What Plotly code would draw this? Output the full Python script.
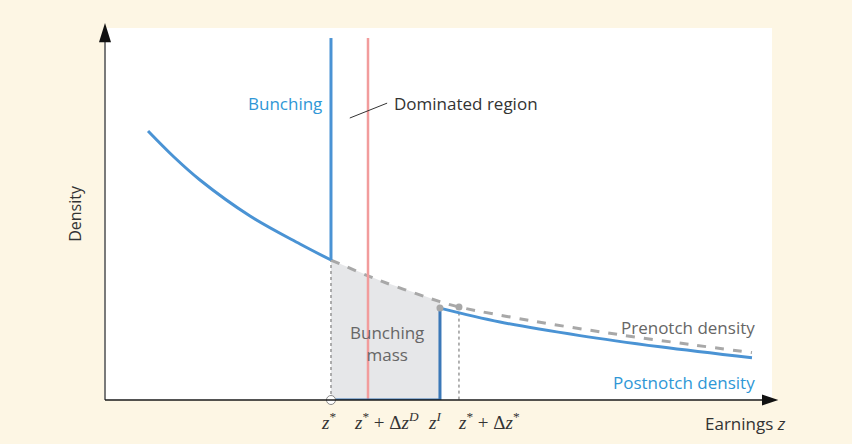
import plotly.graph_objects as go

# Key earnings thresholds (x axis, 0-100 scale)
z_star = 33.88         # notch point z*
z_dom = 39.43          # z* + Δz^D, end of dominated region
z_int = 50.22          # z^I, marginal bunching individual
z_top = 53.07          # z* + Δz*
spike_top = 97.3       # height of the bunching spike

# Counterfactual density below the notch
pre_x = [6.45, 10.34, 14.24, 21.74, 29.24, 33.88]
pre_y = [72.31, 65.32, 59.14, 49.46, 41.94, 37.63]

# Prenotch density above the notch (dashed)
cf_x = [33.88, 41.23, 50.22, 53.07, 63.72, 75.71, 87.71, 97.0]
cf_y = [37.63, 32.10, 26.45, 25.0, 21.37, 17.93, 14.92, 12.74]

# Postnotch density
post_x = [50.22, 59.22, 71.21, 83.21, 97.0]
post_y = [24.7, 20.97, 17.31, 14.30, 11.34]

BLUE = "#4a93d4"
BLUE_TXT = "#2f97d6"
RED = "#f29c9c"
GREY = "#a8a8a8"
SANS = "Open Sans, Noto Sans, sans-serif"
SERIF = "Liberation Serif, DejaVu Serif, serif"

fig = go.Figure()

# Bunching mass: area under the prenotch density between z* and z^I
mass_pts = [(x, y) for x, y in zip(cf_x, cf_y) if z_star <= x <= z_int]
mass_x = [z_star] + [p[0] for p in mass_pts] + [z_int, z_star]
mass_y = [0] + [p[1] for p in mass_pts] + [0, 0]
fig.add_trace(go.Scatter(x=mass_x, y=mass_y, fill="toself", fillcolor="#e6e7e9",
                         line=dict(width=0), mode="lines", hoverinfo="skip"))

# Dotted guides at z* and z* + Δz*
fig.add_trace(go.Scatter(x=[z_star, z_star], y=[0, cf_y[0]], mode="lines",
                         line=dict(color="#666", width=1, dash="dot")))
fig.add_trace(go.Scatter(x=[z_top, z_top], y=[-1.5, cf_y[3]], mode="lines",
                         line=dict(color="#666", width=1, dash="dot"), cliponaxis=False))

# Prenotch density
fig.add_trace(go.Scatter(x=cf_x, y=cf_y, mode="lines", line_shape="spline",
                         line=dict(color=GREY, width=3, dash="dash")))

# Dominated region boundary
fig.add_trace(go.Scatter(x=[z_dom, z_dom], y=[0, spike_top], mode="lines",
                         line=dict(color=RED, width=2.5)))

# Observed density: left tail, bunching spike, hole, postnotch tail
fig.add_trace(go.Scatter(x=pre_x, y=pre_y, mode="lines", line_shape="spline",
                         line=dict(color=BLUE, width=3)))
fig.add_trace(go.Scatter(x=[z_star, z_star], y=[pre_y[-1], spike_top], mode="lines",
                         line=dict(color=BLUE, width=3)))
fig.add_trace(go.Scatter(x=[z_star, z_int, z_int], y=[0, 0, post_y[0]], mode="lines",
                         line=dict(color="#3b78b8", width=3), cliponaxis=False))
fig.add_trace(go.Scatter(x=post_x, y=post_y, mode="lines", line_shape="spline",
                         line=dict(color=BLUE, width=3)))

# Markers
fig.add_trace(go.Scatter(x=[z_int, z_top], y=[post_y[0], cf_y[3]], mode="markers",
                         marker=dict(color=GREY, size=7)))
fig.add_trace(go.Scatter(x=[z_star], y=[0], mode="markers", cliponaxis=False,
                         marker=dict(color="white", size=9, line=dict(color="#888", width=1))))

# Axis arrows
fig.add_shape(type="line", xref="paper", yref="paper", x0=0, y0=0, x1=0, y1=0.97,
              line=dict(color="#7a7a7a", width=2))
fig.add_shape(type="path", xref="paper", yref="paper",
              path="M -0.009,0.962 L 0,1.0135 L 0.009,0.962 Z",
              fillcolor="#111", line=dict(width=0))
fig.add_shape(type="line", xref="paper", yref="paper", x0=0, y0=0, x1=0.99, y1=0,
              line=dict(color="#1a1a1a", width=1.6))
fig.add_shape(type="path", xref="paper", yref="paper",
              path="M 0.985,0.0148 L 1.0095,0 L 0.985,-0.0148 Z",
              fillcolor="#111", line=dict(width=0))

# Leader line for the dominated region label
fig.add_shape(type="line", x0=36.7, y0=75.8, x1=42.3, y1=79.8,
              line=dict(color="#333", width=1))

ann = []
ann.append(dict(x=32.9, y=79.6, text="Bunching", xanchor="right",
                font=dict(color=BLUE_TXT, size=17, family=SANS)))
ann.append(dict(x=43.1, y=79.6, text="Dominated region", xanchor="left",
                font=dict(color="#333", size=17, family=SANS)))
ann.append(dict(x=(z_star + z_int) / 2 + 0.3, y=15.3, text="Bunching<br>mass",
                font=dict(color="#666", size=17, family=SANS)))
ann.append(dict(x=97.7, y=19.4, text="Prenotch density", xanchor="right",
                font=dict(color="#666", size=17, family=SANS)))
ann.append(dict(x=97.7, y=4.6, text="Postnotch density", xanchor="right",
                font=dict(color=BLUE_TXT, size=17, family=SANS)))
ann.append(dict(xref="paper", yref="paper", x=-0.045, y=0.503, text="Density",
                xanchor="center", textangle=-90,
                font=dict(color="#333", size=16, family=SANS)))
ann.append(dict(xref="paper", yref="paper", x=0.897, y=-0.062, xanchor="left",
                text="Earnings <i>z</i>", font=dict(color="#333", size=17, family=SANS)))

# Threshold labels under the x axis
tick_labels = [
    (z_star, "<i>z</i><sup>*</sup>", -2),
    (z_dom, "<i>z</i><sup>*</sup> + Δ<i>z</i><sup><i>D</i></sup>", 18),
    (z_int, "<i>z</i><sup><i>I</i></sup>", -5),
    (z_top, "<i>z</i><sup>*</sup> + Δ<i>z</i><sup>*</sup>", 30),
]
for xv, txt, shift in tick_labels:
    ann.append(dict(x=xv, yref="paper", y=-0.057, text=txt, xshift=shift,
                    font=dict(color="#333", size=19, family=SERIF)))

for a in ann:
    a.setdefault("showarrow", False)
    a.setdefault("yanchor", "middle")

fig.update_layout(
    width=852, height=444,
    margin=dict(l=105, r=80, t=28, b=44),
    paper_bgcolor="#fdf6e4", plot_bgcolor="white",
    showlegend=False,
    xaxis=dict(range=[0, 100], visible=False, fixedrange=True),
    yaxis=dict(range=[0, 100], visible=False, fixedrange=True),
    annotations=ann,
)

fig.write_html("out.html")
